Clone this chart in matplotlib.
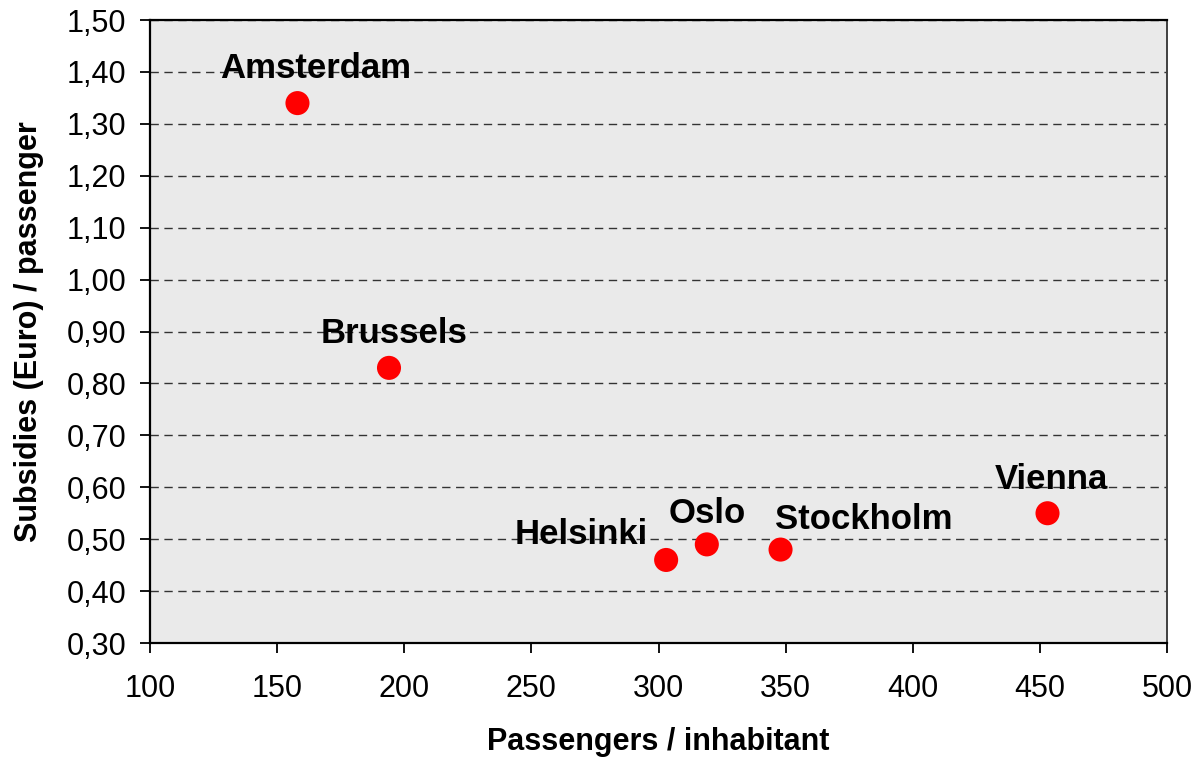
import matplotlib

matplotlib.use("Agg")
import matplotlib.pyplot as plt
from matplotlib.ticker import FuncFormatter, MultipleLocator

plt.rcParams["font.family"] = ["Liberation Sans", "DejaVu Sans"]

cities = ["Amsterdam", "Brussels", "Helsinki", "Oslo", "Stockholm", "Vienna"]
passengers = [158, 194, 303, 319, 348, 453]
subsidies = [1.34, 0.83, 0.46, 0.49, 0.48, 0.55]

# label offsets from each marker, in points
label_offset = {
    "Amsterdam": (13, 25),
    "Brussels": (4, 25),
    "Helsinki": (-61, 18),
    "Oslo": (0, 22),
    "Stockholm": (60, 22),
    "Vienna": (3, 24),
}

fig = plt.figure(figsize=(12.01, 7.59), dpi=100)
ax = fig.add_axes([0.1249, 0.1528, 0.8468, 0.8208])
ax.set_facecolor("#eaeaea")

ax.scatter(passengers, subsidies, s=300, color="#ff0000", edgecolors="none",
           zorder=3)
for name, x, y in zip(cities, passengers, subsidies):
    ax.annotate(name, (x, y), xytext=label_offset[name],
                textcoords="offset points", ha="center", va="center",
                fontsize=25, fontweight="bold", zorder=4)

ax.set_xlim(100, 500)
ax.set_ylim(0.30, 1.50)
ax.xaxis.set_major_locator(MultipleLocator(50))
ax.yaxis.set_major_locator(MultipleLocator(0.1))
ax.yaxis.set_major_formatter(
    FuncFormatter(lambda v, _: f"{v:.2f}".replace(".", ",")))

ax.grid(axis="y", color="#333333", linestyle=(0, (6, 4)), linewidth=1.0)
ax.set_axisbelow(True)
ax.tick_params(direction="out", length=7, width=1.3, labelsize=22)
ax.tick_params(axis="x", pad=15)
ax.tick_params(axis="y", pad=10)
for side in ("left", "bottom", "top"):
    ax.spines[side].set_linewidth(1.6)
ax.spines["right"].set_linewidth(1.4)
ax.spines["right"].set_color("#404040")

ax.set_xlabel("Passengers / inhabitant", fontsize=22, fontweight="bold",
              labelpad=17)
ax.set_ylabel("Subsidies (Euro) / passenger", fontsize=22, fontweight="bold",
              labelpad=16)

fig.savefig("out.png", dpi=100)
